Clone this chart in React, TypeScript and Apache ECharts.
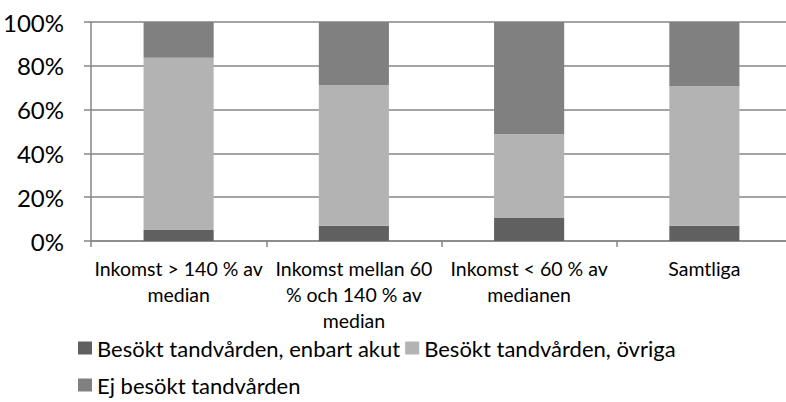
import React, { useEffect, useRef } from "react";
import * as echarts from "echarts";

const categories = [
  "Inkomst > 140 % av\nmedian",
  "Inkomst mellan 60\n% och 140 % av\nmedian",
  "Inkomst < 60 % av\nmedianen",
  "Samtliga",
];
const seriesNames = [
  "Besökt tandvården, enbart akut",
  "Besökt tandvården, övriga",
  "Ej besökt tandvården",
];
const akut = [5.0, 7.0, 10.5, 7.0];
const ovriga = [78.7, 64.2, 38.2, 63.8];
const ejBesokt = [16.3, 28.8, 51.3, 29.2];
const colors = ["#606060", "#b3b3b3", "#808080"];
const yTicks = [0, 20, 40, 60, 80, 100];

const FONT = "Lato, 'Open Sans', sans-serif";

export default function App() {
  const ref = useRef<HTMLDivElement>(null);
  useEffect(() => {
    if (!ref.current) return;
    const chart = echarts.init(ref.current, null, { renderer: "svg" });
    const values = [akut, ovriga, ejBesokt];
    chart.setOption({
      animation: false,
      color: colors,
      textStyle: { fontFamily: FONT },
      grid: { left: 91, top: 22, right: 0, bottom: 161, containLabel: false },
      legend: {
        left: 78,
        top: 332,
        padding: 0,
        width: 700,
        orient: "horizontal",
        itemWidth: 14,
        itemHeight: 13,
        itemGap: 5,
        icon: "rect",
        textStyle: { fontSize: 22, lineHeight: 32, color: "#000", fontFamily: FONT },
        itemStyle: { borderWidth: 0 },
        data: seriesNames,
      },
      xAxis: {
        type: "category",
        data: categories,
        axisLine: { show: true, lineStyle: { color: "#868686", width: 1.5 } },
        axisTick: { show: true, length: 6, lineStyle: { color: "#868686", width: 1.5 } },
        axisLabel: {
          color: "#000",
          fontSize: 19.5,
          fontFamily: FONT,
          lineHeight: 26,
          margin: 14,
          interval: 0,
          align: "center",
        },
        splitLine: { show: false },
      },
      yAxis: {
        type: "value",
        min: 0,
        max: 100,
        interval: 20,
        axisLine: { show: true, lineStyle: { color: "#868686", width: 1.5 } },
        axisTick: { show: true, length: 7, lineStyle: { color: "#868686", width: 1.5 } },
        axisLabel: {
          color: "#000",
          fontSize: 24,
          fontFamily: FONT,
          margin: 27,
          formatter: (v: number) => (yTicks.includes(v) ? `${v}%` : ""),
        },
        splitLine: { show: true, lineStyle: { color: "#868686", width: 1.5 } },
      },
      series: seriesNames.map((name, i) => ({
        name,
        type: "bar",
        stack: "total",
        barWidth: "40%",
        data: values[i],
        itemStyle: { color: colors[i] },
      })),
    });
    return () => chart.dispose();
  }, []);
  return (
    <div
      style={{
        position: "absolute",
        left: 0,
        top: 0,
        width: 786,
        height: 402,
        overflow: "hidden",
        background: "#fff",
      }}
    >
      <div ref={ref} style={{ width: 792, height: 402 }} />
    </div>
  );
}
